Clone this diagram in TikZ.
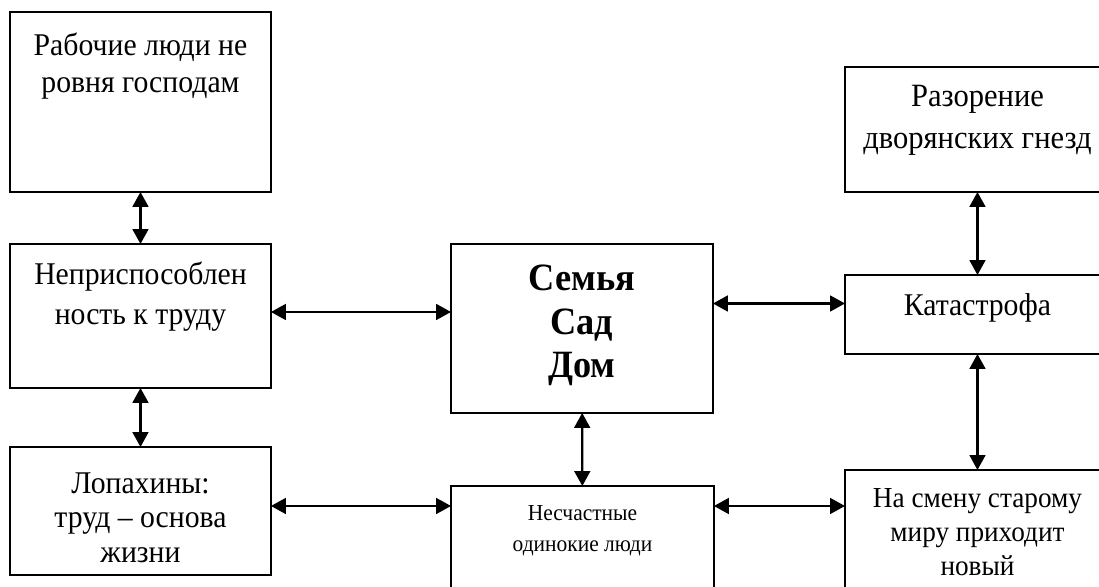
\documentclass[tikz,border=0pt]{standalone}
\usepackage{fontspec}
\setmainfont[FakeStretch=0.94]{Liberation Serif}
\usetikzlibrary{arrows.meta,positioning,calc}

\begin{document}
\begin{tikzpicture}[
  x=0.02cm, y=-0.02cm,
  box/.style={rectangle, draw, line width=1.1pt, anchor=north west,
              inner sep=0pt, outer sep=0pt},
  txt/.style={anchor=north, align=center, inner sep=0pt},
  arr/.style={{Triangle[length=8.5pt,width=9pt]}-{Triangle[length=8.5pt,width=9pt]},
              line width=1.3pt},
]
\useasboundingbox (0,0) rectangle (1099,587);

%% Left column
\node[box, minimum width=5.22cm, minimum height=3.6cm]  (rab)  at (10,12)  {};
\node[box, minimum width=5.22cm, minimum height=2.88cm] (nepr) at (10,244) {};
\node[box, minimum width=5.22cm, minimum height=2.56cm] (lop)  at (10,447) {};

%% Centre
\node[box, minimum width=5.24cm, minimum height=3.38cm] (sem)   at (451,244) {};
\node[box, minimum width=5.26cm, minimum height=2.6cm]  (nesch) at (451,486) {};

%% Right column (cut by the page edge)
\node[box, minimum width=5.3cm, minimum height=2.5cm]  (raz)   at (845,67)  {};
\node[box, minimum width=5.3cm, minimum height=1.58cm] (kat)   at (845,275) {};
\node[box, minimum width=5.3cm, minimum height=2.8cm]  (smena) at (845,470) {};

%% Texts
\node[txt, font=\fontsize{18}{20.8}\selectfont, below=0.42cm of rab.north] (rab-t)
  {Рабочие люди не\\ровня господам};
\node[txt, font=\fontsize{18}{22.7}\selectfont, below=0.36cm of nepr.north] (nepr-t)
  {Неприспособлен\\ность к труду};
\node[txt, font=\fontsize{18}{19.8}\selectfont, below=0.5cm of lop.north] (lop-t)
  {Лопахины:\\труд – основа\\жизни};
\node[txt, font=\fontsize{22}{24.7}\selectfont\bfseries, below=0.42cm of sem.north] (sem-t)
  {Семья\\Сад\\Дом};
\node[txt, font=\fontsize{13}{18}\selectfont, below=0.38cm of nesch.north] (nesch-t)
  {Несчастные\\одинокие люди};
\node[txt, font=\fontsize{18.5}{23.8}\selectfont, below=0.36cm of raz.north] (raz-t)
  {Разорение\\дворянских гнезд};
\node[txt, font=\fontsize{18}{20}\selectfont, below=0.36cm of kat.north] (kat-t)
  {Катастрофа};
\node[txt, font=\fontsize{16.5}{19.5}\selectfont, below=0.36cm of smena.north] (smena-t)
  {На смену старому\\миру приходит\\новый};

%% Arrows
\draw[arr] (rab) -- (nepr);
\draw[arr] (nepr) -- (lop);
\draw[arr] ($(nepr.east)+(0,-4)$) -- ($(nepr.east -| sem.west)+(0,-4)$);
\draw[arr] ($(kat.west -| sem.east)+(0,-11)$) -- ($(kat.west)+(0,-11)$);
\draw[arr] (sem) -- (nesch);
\draw[arr] (raz) -- (kat);
\draw[arr] (kat) -- (smena);
\draw[arr] ($(lop.east)+(0,-5)$) -- ($(lop.east -| nesch.west)+(0,-5)$);
\draw[arr] ($(nesch.north east)+(0,20)$) -- ($(nesch.north east -| smena.west)+(0,20)$);

\end{tikzpicture}
\end{document}
